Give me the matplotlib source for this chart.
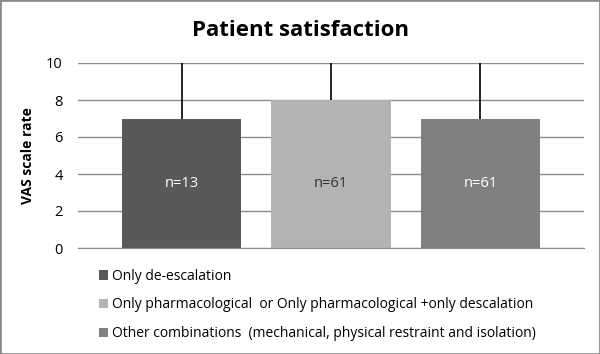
import numpy as np
import matplotlib.pyplot as plt
from matplotlib.patches import Patch

plt.rcParams['font.family'] = ['Open Sans', 'DejaVu Sans']

groups = ['Only de-escalation',
          'Only pharmacological  or Only pharmacological +only descalation',
          'Other combinations  (mechanical, physical restraint and isolation)']
means = [7, 8, 7]
upper_err = [3, 2, 3]
n_labels = ['n=13', 'n=61', 'n=61']
colors = ['#595959', '#b3b3b3', '#808080']
text_colors = ['white', '#333333', 'white']

fig = plt.figure(figsize=(6, 3.54), dpi=100)
fig.patches.append(plt.Rectangle((0, 0), 1, 1, transform=fig.transFigure,
                                 fill=False, edgecolor='#8c8c8c', lw=2))
ax = fig.add_axes([78/600, 1-248/354, 506/600, 185/354])

x = np.arange(len(means))
ax.bar(x, means, width=0.8, color=colors, zorder=2)
ax.errorbar(x, means, yerr=[np.zeros(3), upper_err], fmt='none',
            ecolor='black', elinewidth=1.2, capsize=0, zorder=3)
for i, t in enumerate(n_labels):
    ax.text(x[i], 3.5, t, ha='center', va='center', fontsize=10.5,
            color=text_colors[i], zorder=4)

ax.set_xlim(-0.694, 2.694)
ax.set_ylim(0, 10)
ax.set_yticks([0, 2, 4, 6, 8, 10])
ax.yaxis.grid(True, color='#8c8c8c', lw=1, zorder=0)
ax.set_xticks([])
for s in ['top', 'right', 'left']:
    ax.spines[s].set_visible(False)
ax.spines['bottom'].set_color('#8c8c8c')
ax.tick_params(axis='y', length=0, pad=11, labelsize=10.5)
ax.set_ylabel('VAS scale rate', fontsize=10, fontweight='bold', labelpad=8)

fig.text(0.5, 1-30/354, 'Patient satisfaction', ha='center', va='center',
         fontsize=16, fontweight='bold')

handles = [Patch(facecolor=c) for c in colors]
fig.legend(handles, groups, loc='upper left', bbox_to_anchor=(93/600, 1-263/354),
           frameon=False, fontsize=10, handlelength=0.7, handleheight=0.7,
           handletextpad=0.3, labelspacing=1.0, borderaxespad=0)

fig.savefig('out.png', dpi=100)
